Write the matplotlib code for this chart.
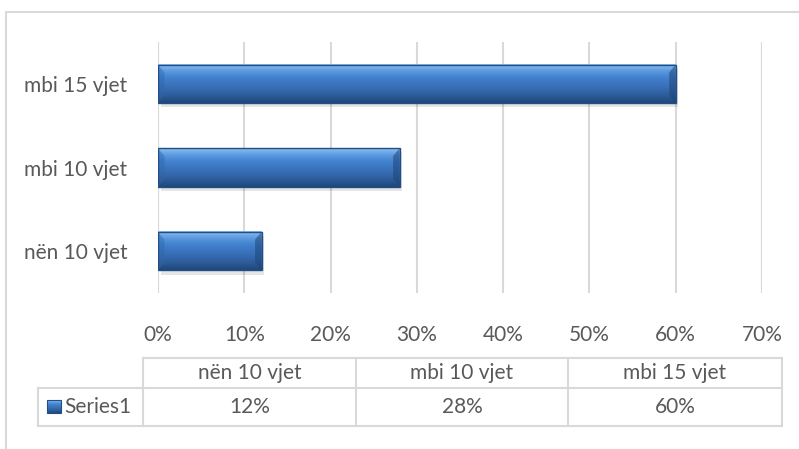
import numpy as np
import matplotlib
matplotlib.use('Agg')
import matplotlib.pyplot as plt
from matplotlib.colors import LinearSegmentedColormap
from matplotlib.patches import Rectangle, Polygon
from matplotlib.lines import Line2D

# te dhenat
categories = ['nën 10 vjet', 'mbi 10 vjet', 'mbi 15 vjet']
values = [12, 28, 60]
series_name = 'Series1'
x_ticks = [0, 10, 20, 30, 40, 50, 60, 70]

plt.rcParams['font.family'] = ['Lato', 'DejaVu Sans']
text_col = '#595959'
grid_col = '#D9D9D9'
fs = 15

W, H = 799, 449
fig = plt.figure(figsize=(W / 100, H / 100), dpi=100)

# korniza e grafikut
fig.add_artist(Rectangle((6 / W, -0.02), 1.1, 1 - 12 / H + 0.02,
                         transform=fig.transFigure, fill=False,
                         edgecolor='#D9D9D9', linewidth=1.5))

ax = fig.add_axes([158 / W, 1 - 293 / H, (762 - 158) / W, (293 - 42) / H])
ax.set_xlim(0, 70)
ax.set_ylim(-0.5, len(categories) - 0.5)
for s in ax.spines.values():
    s.set_visible(False)
ax.set_xticks(x_ticks)
ax.set_xticklabels([f'{t}%' for t in x_ticks])
ax.grid(axis='x', color=grid_col, linewidth=1.5)
ax.set_axisbelow(True)
ax.tick_params(axis='x', length=0, pad=23, labelsize=fs, labelcolor=text_col)
ax.set_yticks(range(len(categories)))
ax.set_yticklabels(categories)
ax.tick_params(axis='y', length=0, pad=22, labelsize=fs, labelcolor=text_col)

bar_cmap = LinearSegmentedColormap.from_list(
    'bar', ['#8EC0F2', '#5D9BE0', '#4282CF', '#3B76C0', '#3569AE', '#2C5A97', '#204878'])

bars = ax.barh(range(len(categories)), values, height=0.46, color='none', edgecolor='none')
grad = np.linspace(0, 1, 64).reshape(-1, 1)
for b in bars:
    x0, y0, w, h = b.get_x(), b.get_y(), b.get_width(), b.get_height()
    # hija
    ax.add_patch(Rectangle((x0 + 0.3, y0 - 0.05), w, h, facecolor='#000000',
                           alpha=0.10, edgecolor='none', zorder=2))
    ax.imshow(grad, cmap=bar_cmap, aspect='auto', extent=(x0, x0 + w, y0, y0 + h),
              origin='upper', zorder=3, interpolation='bicubic')
    # bevel ne anet
    dx = 0.75
    dy = h * 0.2
    ax.add_patch(Polygon([(x0, y0), (x0, y0 + h), (x0 + dx, y0 + h - dy), (x0 + dx, y0 + dy)],
                         closed=True, facecolor='#2F66AA', alpha=0.45, edgecolor='none', zorder=4))
    ax.add_patch(Polygon([(x0 + w, y0), (x0 + w, y0 + h), (x0 + w - dx, y0 + h - dy), (x0 + w - dx, y0 + dy)],
                         closed=True, facecolor='#1E4576', alpha=0.55, edgecolor='none', zorder=4))
    ax.add_patch(Rectangle((x0, y0), w, h, fill=False, edgecolor='#234E85', linewidth=1.0, zorder=5))

ax.axvline(0, color=grid_col, linewidth=1.5, zorder=1)

# tabela e te dhenave
tab = fig.add_axes([0, 0, 1, 1])
tab.set_xlim(0, W)
tab.set_ylim(H, 0)
tab.axis('off')
tab.patch.set_alpha(0)

col_x = [143, 356, 568, 782]
y_top, y_mid, y_bot = 358, 388, 426
tcol = '#D9D9D9'
lw = 1.5
tab.add_line(Line2D([col_x[0], col_x[-1]], [y_top, y_top], color=tcol, lw=lw))
tab.add_line(Line2D([38, col_x[-1]], [y_mid, y_mid], color=tcol, lw=lw))
tab.add_line(Line2D([38, col_x[-1]], [y_bot, y_bot], color=tcol, lw=lw))
tab.add_line(Line2D([38, 38], [y_mid, y_bot], color=tcol, lw=lw))
for cx in col_x:
    tab.add_line(Line2D([cx, cx], [y_top, y_bot], color=tcol, lw=lw))

for i, (cat, val) in enumerate(zip(categories, values)):
    cx = (col_x[i] + col_x[i + 1]) / 2
    tab.text(cx, (y_top + y_mid) / 2, cat, ha='center', va='center', fontsize=fs, color=text_col)
    tab.text(cx, (y_mid + y_bot) / 2, f'{val}%', ha='center', va='center', fontsize=fs, color=text_col)

# celesi i legjendes
tab.imshow(grad, cmap=bar_cmap, extent=(47, 61, 413, 400), aspect='auto', zorder=3)
tab.add_patch(Rectangle((47, 400), 14, 13, fill=False, edgecolor='#234E85', lw=0.8, zorder=4))
tab.text(64, (y_mid + y_bot) / 2, series_name, ha='left', va='center', fontsize=fs, color=text_col)
tab.set_xlim(0, W)
tab.set_ylim(H, 0)

fig.savefig('out.png', dpi=100)
